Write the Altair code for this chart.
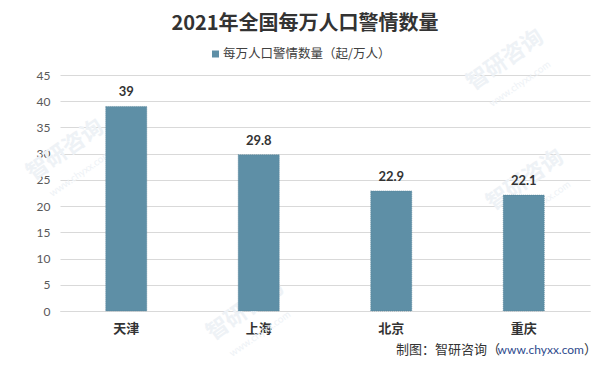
import altair as alt
import pandas as pd

cities = ["天津", "上海", "北京", "重庆"]
values = [39, 29.8, 22.9, 22.1]
y_ticks = [0, 5, 10, 15, 20, 25, 30, 35, 40, 45]
title_text = "2021年全国每万人口警情数量"
legend_text = "每万人口警情数量（起/万人）"
source_parts = ["制图：智研咨询（", "www.chyxx.com", "）"]
wm_text = ["智研咨询", "www.chyxx.com"]
wm_pos = [(5, 75), (445, -15), (465, 105), (185, 235)]

CJK = "Noto Sans CJK SC"
NUM = "Lato"
BAR = "#5E8FA6"

df = pd.DataFrame({"city": cities, "value": values})

base = alt.Chart(df)

x_enc = alt.X(
    "city:N",
    sort=cities,
    title=None,
    scale=alt.Scale(paddingInner=0.69, paddingOuter=0.345),
    axis=alt.Axis(
        labelAngle=0,
        labelFont=CJK,
        labelFontSize=13,
        labelFontWeight="bold",
        labelColor="#333333",
        labelPadding=11,
        ticks=False,
        domainColor="#D9D9D9",
        domainWidth=1,
        grid=False,
    ),
)
y_enc = alt.Y(
    "value:Q",
    title=None,
    scale=alt.Scale(domain=[0, 45], nice=False),
    axis=alt.Axis(
        values=y_ticks,
        labelOverlap=False,
        labelFont=NUM,
        labelFontSize=12,
        labelColor="#595959",
        labelPadding=10,
        ticks=False,
        domain=False,
        gridColor="#D9D9D9",
        gridWidth=1,
    ),
)

# faint watermarks
wm_layers = []
for (wx, wy) in wm_pos:
    wm_layers.append(
        alt.Chart(pd.DataFrame({"t": [wm_text[0]]}))
        .mark_text(font=CJK, fontSize=22, fontWeight="bold", angle=325, color="#EEF2F6", align="center", baseline="middle")
        .encode(text="t:N", x=alt.value(wx), y=alt.value(wy))
    )
    wm_layers.append(
        alt.Chart(pd.DataFrame({"t": [wm_text[1]]}))
        .mark_text(font=NUM, fontSize=10, angle=325, color="#EEF2F6", align="center", baseline="middle")
        .encode(text="t:N", x=alt.value(wx + 15), y=alt.value(wy + 24))
    )

bars = base.mark_bar(color=BAR, stroke="#4F7E94", strokeWidth=0.6, strokeDash=[1, 1]).encode(x=x_enc, y=y_enc)

labels = base.mark_text(
    font=NUM, fontSize=13, fontWeight="bold", color="#333333", baseline="bottom", dy=-7
).encode(x=x_enc, y=y_enc, text=alt.Text("value:Q"))

title = (
    alt.Chart(pd.DataFrame({"t": [title_text]}))
    .mark_text(font=CJK, fontSize=20, fontWeight="bold", color="#333333", align="center", baseline="middle")
    .encode(text="t:N", x=alt.value(245), y=alt.value(-51))
)

legend_sym = (
    alt.Chart(pd.DataFrame({"t": [legend_text]}))
    .mark_square(color=BAR, size=49, opacity=1)
    .encode(x=alt.value(155.5), y=alt.value(-21))
)
legend_lab = (
    alt.Chart(pd.DataFrame({"t": [legend_text]}))
    .mark_text(font=CJK, fontSize=12.5, color="#404040", align="left", baseline="middle")
    .encode(text="t:N", x=alt.value(163), y=alt.value(-21))
)

R = 537
SY = 275
src3 = (
    alt.Chart(pd.DataFrame({"t": [source_parts[2]]}))
    .mark_text(font=CJK, fontSize=13, color="#333333", align="right", baseline="middle")
    .encode(text="t:N", x=alt.value(R), y=alt.value(SY))
)
src2 = (
    alt.Chart(pd.DataFrame({"t": [source_parts[1]]}))
    .mark_text(font=NUM, fontSize=12, color="#2E4A8C", align="right", baseline="middle")
    .encode(text="t:N", x=alt.value(R - 13), y=alt.value(SY))
)
src1 = (
    alt.Chart(pd.DataFrame({"t": [source_parts[0]]}))
    .mark_text(font=CJK, fontSize=13, color="#333333", align="right", baseline="middle")
    .encode(text="t:N", x=alt.value(R - 13 - 84), y=alt.value(SY))
)

chart = (
    alt.layer(*wm_layers, bars, labels, title, legend_sym, legend_lab, src1, src2, src3)
    .properties(
        width=530,
        height=236,
        padding={"left": 52, "top": 67, "right": 8, "bottom": 48},
        autosize=alt.AutoSizeParams(type="none"),
        background="white",
    )
    .configure_view(stroke=None)
)

chart.save("out.html", embed_options={"renderer": "svg", "actions": False})
